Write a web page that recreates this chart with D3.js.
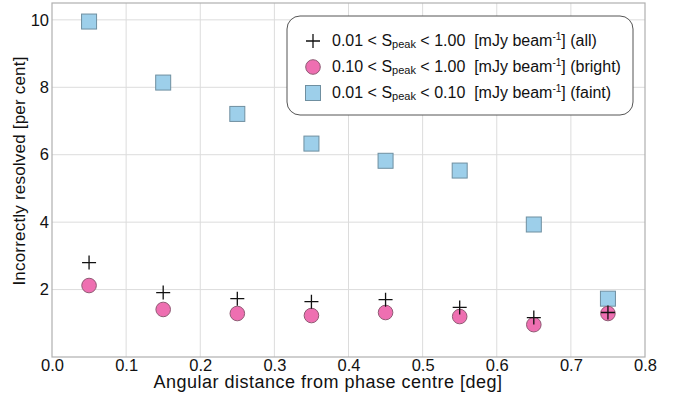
<!DOCTYPE html>
<html><head><meta charset="utf-8">
<script src="https://cdn.jsdelivr.net/npm/d3@7"></script>
<style>body{margin:0;background:#fff;} svg{display:block;font-family:"Liberation Sans",Arial,sans-serif;}</style>
</head><body>
<svg id="c" width="676" height="394"></svg>
<script>
const xs = [0.05,0.15,0.25,0.35,0.45,0.55,0.65,0.75];
const allVals = [2.80,1.91,1.73,1.64,1.70,1.47,1.17,1.32];
const brightVals = [2.12,1.41,1.29,1.23,1.32,1.20,0.96,1.29];
const faintVals = [9.95,8.14,7.21,6.33,5.82,5.53,3.93,1.73];
const xTicks = [0,0.1,0.2,0.3,0.4,0.5,0.6,0.7,0.8];
const yTicks = [2,4,6,8,10];
const legendLabels = ["(all)","(bright)","(faint)"];
const legendRanges = [["0.01","1.00"],["0.10","1.00"],["0.01","0.10"]];

const svg = d3.select("#c");
const L=52,R=645,T=3,B=357;
const x = d3.scaleLinear().domain([0,0.8]).range([L,R]);
const y = d3.scaleLinear().domain([0,10.5]).range([B,T]);

// grid
svg.append("g").selectAll("line").data(xTicks.slice(1,-1)).join("line")
  .attr("x1",d=>x(d)).attr("x2",d=>x(d)).attr("y1",T).attr("y2",B)
  .attr("stroke","#dcdcdc").attr("stroke-width",1);
svg.append("g").selectAll("line").data(yTicks).join("line")
  .attr("x1",L).attr("x2",R).attr("y1",d=>y(d)).attr("y2",d=>y(d))
  .attr("stroke","#dcdcdc").attr("stroke-width",1);
// frame
svg.append("rect").attr("x",L).attr("y",T).attr("width",R-L).attr("height",B-T)
  .attr("fill","none").attr("stroke","#b0b0b0").attr("stroke-width",1.2);

// axes
const xa = svg.append("g").attr("transform",`translate(0,${B})`)
  .call(d3.axisBottom(x).tickValues(xTicks).tickFormat(d3.format(".1f")).tickSize(0).tickPadding(2));
const ya = svg.append("g").attr("transform",`translate(${L},0)`)
  .call(d3.axisLeft(y).tickValues(yTicks).tickFormat(d3.format("d")).tickSize(0).tickPadding(3));
[xa,ya].forEach(a=>{a.select(".domain").remove();a.selectAll("text").attr("font-size",16.5).attr("fill","#111").attr("font-family","'Liberation Sans',Arial,sans-serif");});

svg.append("text").attr("x",328).attr("y",388).attr("text-anchor","middle")
  .attr("font-size",18).attr("letter-spacing",0.5)
  .attr("fill","#111").text("Angular distance from phase centre [deg]");
svg.append("text").attr("transform",`translate(25,171) rotate(-90)`).attr("text-anchor","middle")
  .attr("font-size",17).attr("letter-spacing",0.2)
  .attr("fill","#111").text("Incorrectly resolved [per cent]");

const sq=15, rc=7.3, pl=7;
function drawSquare(g,cx,cy){g.append("rect").attr("x",cx-sq/2).attr("y",cy-sq/2).attr("width",sq).attr("height",sq)
  .attr("fill","#9dcfea").attr("stroke","#6f8fa0").attr("stroke-width",1);}
function drawCircle(g,cx,cy){g.append("circle").attr("cx",cx).attr("cy",cy).attr("r",rc)
  .attr("fill","#ee6fb1").attr("stroke","#8f5b74").attr("stroke-width",1);}
function drawPlus(g,cx,cy){g.append("path").attr("d",`M${cx-pl},${cy}H${cx+pl}M${cx},${cy-pl}V${cy+pl}`)
  .attr("stroke","#111").attr("stroke-width",1.3).attr("fill","none");}

const gm = svg.append("g");
xs.forEach((d,i)=>drawSquare(gm,x(d),y(faintVals[i])));
xs.forEach((d,i)=>drawCircle(gm,x(d),y(brightVals[i])));
xs.forEach((d,i)=>drawPlus(gm,x(d),y(allVals[i])));

// legend
const lg = svg.append("g");
lg.append("rect").attr("x",287).attr("y",16).attr("width",346).attr("height",99).attr("rx",13)
  .attr("fill","#fff").attr("stroke","#555").attr("stroke-width",1);
const rows=[41,67,93];
drawPlus(lg,313,rows[0]); drawCircle(lg,313,rows[1]); drawSquare(lg,313,rows[2]);
rows.forEach((ry,i)=>{
  const t = lg.append("text").attr("x",332).attr("y",ry+4.5).attr("font-size",16).attr("fill","#111")
    .style("white-space","pre");
  t.append("tspan").text(legendRanges[i][0]+" < S");
  t.append("tspan").attr("font-size",11).attr("dy",2).text("peak");
  t.append("tspan").attr("dy",-2).text(" < "+legendRanges[i][1]+"  [mJy beam");
  t.append("tspan").attr("font-size",10).attr("dy",-6).text("-1");
  t.append("tspan").attr("dy",6).text("] "+legendLabels[i]);
});
</script>
</body></html>
